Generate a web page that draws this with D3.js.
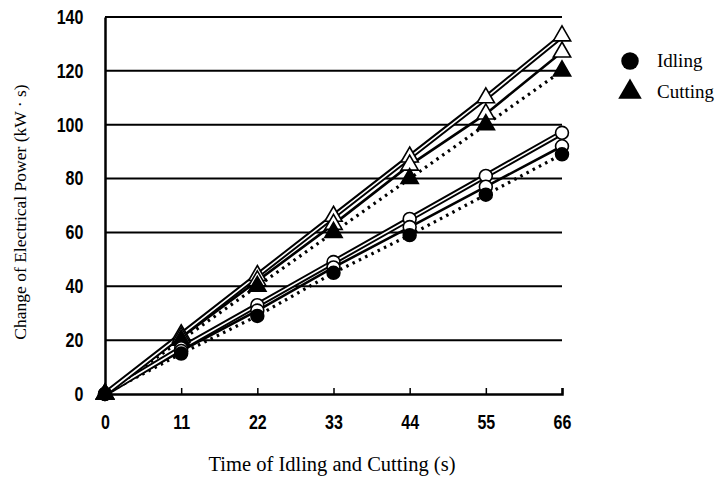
<!DOCTYPE html>
<html>
<head>
<meta charset="utf-8">
<script src="https://cdn.jsdelivr.net/npm/d3@7"></script>
<style>
  body { margin: 0; background: #fff; }
  .tick-label { font-family: "Liberation Sans", "DejaVu Sans", sans-serif; font-weight: bold; font-size: 20px; }
  .serif { font-family: "Liberation Serif", "DejaVu Serif", serif; fill: #000; }
  .legend-text { font-family: "Liberation Serif", "DejaVu Serif", serif; font-size: 19px; fill: #000; }
</style>
</head>
<body>
<svg id="chart" width="725" height="478"></svg>
<script>
// time (s)
var times = [0, 11, 22, 33, 44, 55, 66];
var yTicks = [0, 20, 40, 60, 80, 100, 120, 140];

// idling runs (kW·s)
var idlingA = [0, 17, 33, 49, 65, 81, 97];
var idlingB = [0, 16, 31, 47, 62, 77, 92];
var idlingC = [0, 15, 29, 45, 59, 74, 89];
// cutting runs (kW·s)
var cuttingA = [0, 22, 44, 66, 88, 110, 133];
var cuttingB = [0, 21, 42, 63, 85, 104, 127];
var cuttingC = [0, 20, 40, 60, 80, 100, 120];

var svg = d3.select("#chart");
var x = d3.scaleLinear().domain([0, 66]).range([105, 562]);
var y = d3.scaleLinear().domain([0, 140]).range([394, 17]);

// grid lines
svg.append("g").selectAll("line")
    .data(yTicks.filter(function(d) { return d > 0; }))
    .enter().append("line")
    .attr("x1", x(0)).attr("x2", x(66))
    .attr("y1", function(d) { return y(d); })
    .attr("y2", function(d) { return y(d); })
    .attr("stroke", "#000").attr("stroke-width", 2);

// axes
var xAxis = svg.append("g").attr("transform", "translate(0," + y(0) + ")")
    .call(d3.axisBottom(x).tickValues(times).tickSize(-6).tickPadding(21));
xAxis.select(".domain").attr("stroke-width", 2.5);
xAxis.selectAll(".tick line").attr("stroke-width", 1.5);
xAxis.selectAll("text").attr("class", "tick-label").attr("fill", "#000")
    .attr("transform", "scale(0.8,1)");

var yAxis = svg.append("g").attr("transform", "translate(" + x(0) + ",0)")
    .call(d3.axisLeft(y).tickValues(yTicks).tickSize(0).tickPadding(27));
yAxis.select(".domain").attr("stroke-width", 2.5);
yAxis.selectAll("text").attr("class", "tick-label").attr("fill", "#000")
    .attr("transform", "scale(0.8,1)");

var line = d3.line()
    .x(function(d, i) { return x(times[i]); })
    .y(function(d) { return y(d); });

function drawSeries(vals, style) {
    var g = svg.append("g");
    if (style === "double") {
        g.append("path").attr("d", line(vals)).attr("fill", "none")
            .attr("stroke", "#000").attr("stroke-width", 5.5);
        g.append("path").attr("d", line(vals)).attr("fill", "none")
            .attr("stroke", "#fff").attr("stroke-width", 1.6);
    } else if (style === "solid") {
        g.append("path").attr("d", line(vals)).attr("fill", "none")
            .attr("stroke", "#000").attr("stroke-width", 2.6);
    } else {
        g.append("path").attr("d", line(vals)).attr("fill", "none")
            .attr("stroke", "#000").attr("stroke-width", 3.2)
            .attr("stroke-dasharray", "2.5,4.5");
    }
    return g;
}

function drawMarkers(vals, shape, filled) {
    var sym = d3.symbol().type(shape === "circle" ? d3.symbolCircle : d3.symbolTriangle).size(130);
    svg.append("g").selectAll("path")
        .data(vals).enter().append("path")
        .attr("d", sym)
        .attr("transform", function(d, i) { return "translate(" + x(times[i]) + "," + y(d) + ")"; })
        .attr("fill", filled ? "#000" : "#fff")
        .attr("stroke", "#000").attr("stroke-width", 1.6);
}

drawSeries(idlingC, "dotted");
drawSeries(idlingB, "solid");
drawSeries(idlingA, "double");
drawSeries(cuttingC, "dotted");
drawSeries(cuttingB, "solid");
drawSeries(cuttingA, "double");

drawMarkers(cuttingA, "triangle", false);
drawMarkers(cuttingB, "triangle", false);
drawMarkers(cuttingC, "triangle", true);
drawMarkers(idlingA, "circle", false);
drawMarkers(idlingB, "circle", false);
drawMarkers(idlingC, "circle", true);

// axis titles
svg.append("text").attr("class", "serif").style("font-size", "20.5px")
    .attr("x", 332).attr("y", 471).attr("text-anchor", "middle")
    .text("Time of Idling and Cutting (s)");
svg.append("text").attr("class", "serif").style("font-size", "17.5px")
    .attr("transform", "translate(26,212) rotate(-90)")
    .attr("text-anchor", "middle")
    .text("Change of Electrical Power (kW \u00b7 s)");

// legend
var legend = [{ name: "Idling", shape: d3.symbolCircle }, { name: "Cutting", shape: d3.symbolTriangle }];
var lg = svg.append("g").selectAll("g").data(legend).enter().append("g")
    .attr("transform", function(d, i) { return "translate(630," + (61 + i * 31) + ")"; });
lg.append("path").attr("d", function(d) { return d3.symbol().type(d.shape).size(240)(); })
    .attr("fill", "#000");
lg.append("text").attr("class", "legend-text").attr("x", 27).attr("y", 6).text(function(d) { return d.name; });
</script>
</body>
</html>
